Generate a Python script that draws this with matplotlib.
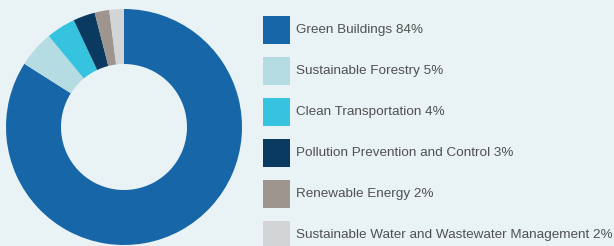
import matplotlib
matplotlib.use("Agg")
import matplotlib.pyplot as plt
from matplotlib.patches import Rectangle

categories = ["Green Buildings", "Sustainable Forestry", "Clean Transportation",
              "Pollution Prevention and Control", "Renewable Energy",
              "Sustainable Water and Wastewater Management"]
shares = [84, 5, 4, 3, 2, 2]
colors = ["#1666a8", "#b6dce3", "#36c3e0", "#0b3a60", "#9e958e", "#d2d4d6"]

bg = "#e9f3f5"
W, H = 614, 246
fig = plt.figure(figsize=(W / 100, H / 100), dpi=100, facecolor=bg)

# donut, center at (124, 127) px, outer r 118, inner r 63
cx, cy, r = 124, 127, 118
ax = fig.add_axes([(cx - r) / W, (H - cy - r) / H, 2 * r / W, 2 * r / H])
ax.set_facecolor(bg)
ax.pie(shares, colors=colors, startangle=90, counterclock=False,
       radius=1.0, wedgeprops=dict(width=1 - 63 / 118, linewidth=0))
ax.set_xlim(-1, 1)
ax.set_ylim(-1, 1)
ax.set_aspect("equal")
ax.axis("off")

# legend on the right
for i, (cat, val, col) in enumerate(zip(categories, shares, colors)):
    top = 16 + 41 * i
    fig.patches.append(Rectangle((263 / W, (H - top - 28) / H), 27 / W, 28 / H,
                                 transform=fig.transFigure, facecolor=col,
                                 edgecolor="none"))
    fig.text(296 / W, (H - top - 14) / H, f"{cat} {val}%", fontsize=9.7,
             color="#505050", va="center", ha="left", family="Liberation Sans")

fig.savefig("out.png", dpi=100, facecolor=bg)
